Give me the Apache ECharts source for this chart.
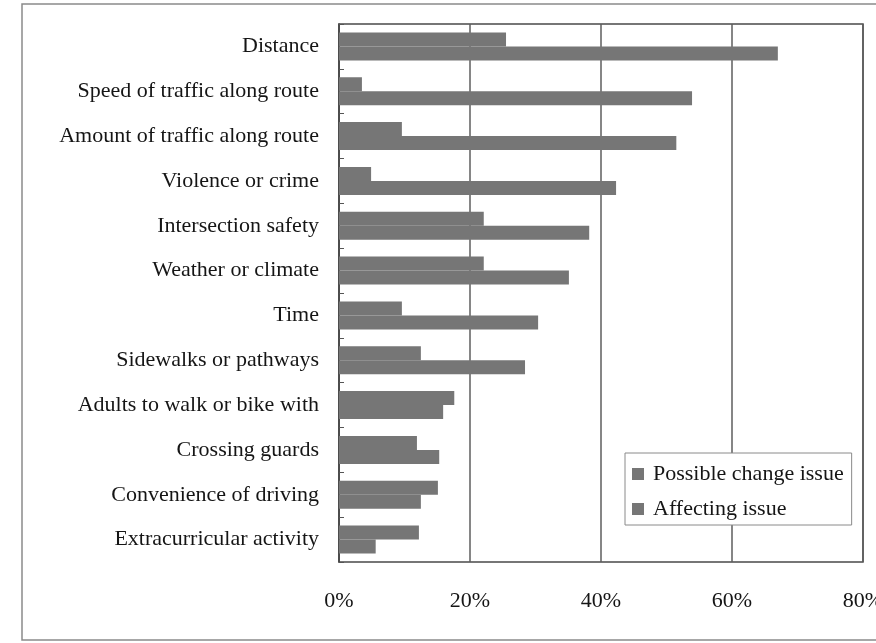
<!DOCTYPE html>
<html>
<head>
<meta charset="utf-8">
<title>Issues affecting walking and biking to school</title>
<script src="https://cdn.jsdelivr.net/npm/echarts@6/dist/echarts.min.js"></script>
<style>
  html, body { margin: 0; padding: 0; background: #ffffff; }
  #chart { width: 876px; height: 643px; }
</style>
</head>
<body>
<div id="chart"></div>
<script>
// Issue categories, top to bottom
const categories = [
  'Distance',
  'Speed of traffic along route',
  'Amount of traffic along route',
  'Violence or crime',
  'Intersection safety',
  'Weather or climate',
  'Time',
  'Sidewalks or pathways',
  'Adults to walk or bike with',
  'Crossing guards',
  'Convenience of driving',
  'Extracurricular activity'
];

// Share of respondents (%)
const possibleChange = [25.5, 3.5, 9.6, 4.9, 22.1, 22.1, 9.6, 12.5, 17.6, 11.9, 15.1, 12.2];
const affecting = [67.0, 53.9, 51.5, 42.3, 38.2, 35.1, 30.4, 28.4, 15.9, 15.3, 12.5, 5.6];

// Value axis ticks (%)
const axisTicks = [0, 20, 40, 60, 80];

const seriesNames = ['Possible change issue', 'Affecting issue'];

const fontFamily = '"Liberation Serif", "Times New Roman", serif';
const barColor = '#767676';
const textColor = '#151515';

const chart = echarts.init(document.getElementById('chart'), null, { renderer: 'canvas' });

chart.setOption({
  backgroundColor: '#ffffff',
  animation: false,
  textStyle: { fontFamily: fontFamily },
  graphic: [
    {
      // outer frame of the figure
      type: 'rect',
      shape: { x: 22, y: 4, width: 870, height: 636 },
      style: { fill: null, stroke: '#8a8a8a', lineWidth: 1.5 },
      silent: true,
      z: 0
    }
  ],
  grid: {
    left: 339,
    right: 13,
    top: 24,
    bottom: 81,
    outerBoundsMode: 'none',
    containLabel: false,
    show: true,
    borderColor: '#4a4a4a',
    borderWidth: 1.5,
    backgroundColor: 'transparent'
  },
  legend: {
    data: seriesNames,
    orient: 'vertical',
    left: 625,
    top: 453,
    padding: [10, 8, 5, 7],
    itemWidth: 12,
    itemHeight: 12,
    itemGap: 13,
    icon: 'rect',
    backgroundColor: '#ffffff',
    borderColor: '#8a8a8a',
    borderWidth: 1,
    textStyle: {
      fontFamily: fontFamily,
      fontSize: 22,
      color: textColor,
      padding: [0, 0, 0, 4]
    },
    z: 10
  },
  xAxis: {
    type: 'value',
    min: axisTicks[0],
    max: axisTicks[axisTicks.length - 1],
    interval: axisTicks[1] - axisTicks[0],
    axisLine: { show: false },
    axisTick: { show: false },
    splitLine: { show: true, lineStyle: { color: '#5e5e5e', width: 1.5 } },
    axisLabel: {
      margin: 28,
      fontFamily: fontFamily,
      fontSize: 22,
      color: textColor,
      formatter: v => v + '%'
    }
  },
  yAxis: {
    type: 'category',
    data: categories,
    inverse: true,
    axisLine: { show: true, lineStyle: { color: '#444444', width: 1.5 } },
    axisTick: { show: true, inside: true, length: 5, lineStyle: { color: '#555555' } },
    splitLine: { show: false },
    axisLabel: {
      margin: 20,
      fontFamily: fontFamily,
      fontSize: 22,
      color: textColor
    }
  },
  series: [
    {
      name: seriesNames[0],
      type: 'bar',
      data: possibleChange,
      barWidth: 14,
      barGap: '0%',
      itemStyle: { color: barColor },
      z: 3
    },
    {
      name: seriesNames[1],
      type: 'bar',
      data: affecting,
      barWidth: 14,
      barGap: '0%',
      itemStyle: { color: barColor },
      z: 3
    }
  ]
});
</script>
</body>
</html>
